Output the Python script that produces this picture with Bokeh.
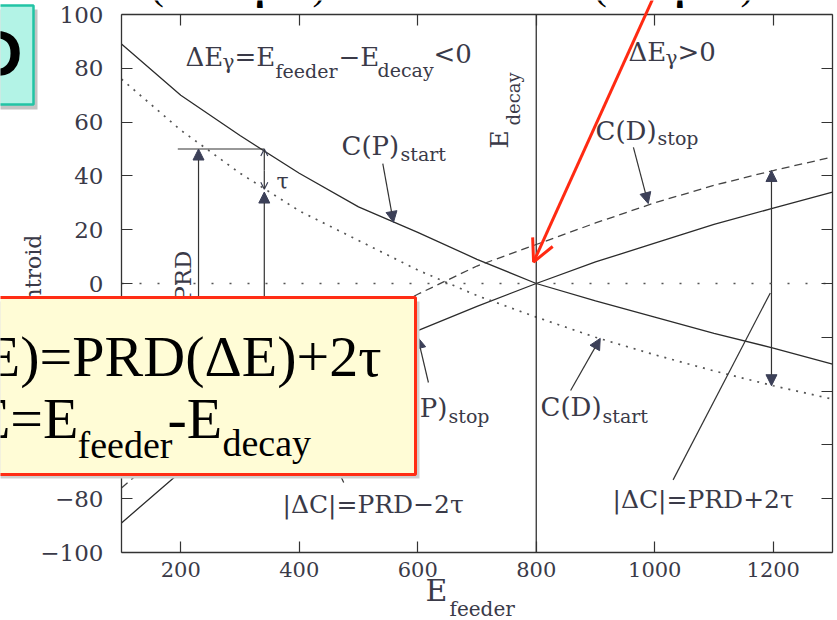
import math
from bokeh.plotting import figure
from bokeh.models import (Label, Arrow, NormalHead, OpenHead, BoxAnnotation,
                          LinearAxis, FixedTicker, Range1d)
from bokeh.embed import file_html
from bokeh.resources import INLINE

# ---------------- data ----------------
e_feeder = [100, 200, 300, 400, 500, 600, 700, 800, 900, 1000, 1100, 1200, 1300]
cp_start = [89, 70, 55, 41, 28.5, 19, 9, 0, -6.5, -12.5, -18.5, -24, -30]      # solid, falling
cp_stop = [-89, -70, -55, -41, -29, -17.5, -8.5, 0, 8, 15, 22, 28, 34]         # solid, rising
cd_start = [76, 57, 41, 27, 16, 5, -4.5, -12.5, -20, -26.5, -32.5, -38, -43]   # dotted, falling
cd_stop = [-76, -57, -41, -28, -15.5, -4, 6.5, 14.5, 22.5, 30, 36.5, 42, 47]   # dashed, rising
e_decay = 800
x_ticks = [200, 400, 600, 800, 1000, 1200]
y_ticks = [-100, -80, -60, -40, -20, 0, 20, 40, 60, 80, 100]
y_tick_labels = {t: (str(t) if t >= 0 else "\u2212" + str(-t)) for t in y_ticks}
X_MIN, X_MAX = 100, 1300
Y_MIN, Y_MAX = -100, 100

# ---------------- layout: plot box inside the 837x620 page ----------------
W, H = 837, 620
F_L, F_R, F_T, F_B = 121, 832, 14, 552
kx = (F_R - F_L) / (X_MAX - X_MIN)
ky = (F_B - F_T) / (Y_MAX - Y_MIN)
x_rng = Range1d(X_MIN - F_L / kx, X_MAX + (W - F_R) / kx)
y_rng = Range1d(Y_MIN - (H - F_B) / ky, Y_MAX + F_T / ky)

AX = "#333333"
TXT = "#3a3a48"
ARW = "#3c4058"
SERIF = "DejaVu Serif"
RED = "#ff2a12"

p = figure(width=W, height=H, x_range=x_rng, y_range=y_rng,
           output_backend="svg", toolbar_location=None,
           x_axis_location=None, y_axis_location=None,
           min_border_left=0, min_border_right=0, min_border_top=0, min_border_bottom=0)
p.grid.visible = False
p.outline_line_color = None
p.background_fill_color = "white"
p.border_fill_color = "white"


def make_axis(loc, bounds, ticks, labels_on, size):
    ax = LinearAxis(fixed_location=loc, bounds=bounds, ticker=FixedTicker(ticks=ticks))
    ax.major_tick_in = 11
    ax.major_tick_out = 0
    ax.minor_tick_in = 0
    ax.minor_tick_out = 0
    ax.axis_line_color = AX
    ax.axis_line_width = 1.3
    ax.major_tick_line_color = AX
    ax.major_tick_line_width = 1.2
    ax.major_label_text_font = SERIF
    ax.major_label_text_font_size = size
    if labels_on:
        ax.major_label_text_color = TXT
    else:
        ax.major_label_text_color = None
        ax.major_label_text_alpha = 0
    return ax


left = make_axis(X_MIN, (Y_MIN, Y_MAX), y_ticks, True, "23px")
left.major_label_overrides = y_tick_labels
left.major_label_standoff = 18
left.axis_label = "Centroid"
left.axis_label_text_font = SERIF
left.axis_label_text_font_style = "normal"
left.axis_label_text_font_size = "22px"
left.axis_label_text_color = TXT
left.axis_label_standoff = -9
p.add_layout(left, "left")

bottom = make_axis(Y_MIN, (X_MIN, X_MAX), x_ticks, True, "21px")
bottom.major_label_standoff = 9
p.add_layout(bottom, "below")
p.add_layout(make_axis(Y_MAX, (X_MIN, X_MAX), x_ticks, False, "10px"), "above")
p.add_layout(make_axis(X_MAX, (Y_MIN, Y_MAX), y_ticks, False, "10px"), "right")

# ---------------- curves ----------------
p.line(e_feeder, cp_start, line_color="#2b2b2b", line_width=1.3)
p.line(e_feeder, cp_stop, line_color="#2b2b2b", line_width=1.3)
p.line(e_feeder, cd_start, line_color="#555555", line_width=1.7, line_dash="2 6")
p.line(e_feeder, cd_stop, line_color="#444444", line_width=1.3, line_dash="8 5")
p.line([X_MIN, X_MAX], [0, 0], line_color="#555555", line_width=1.7, line_dash="2 16")
p.line([e_decay, e_decay], [Y_MIN, Y_MAX], line_color=AX, line_width=1.3)


# ---------------- chart arrows (data units) ----------------
def arrow(x0, y0, x1, y1, head=True, open_head=False, size=11):
    end = None
    if head:
        end = (OpenHead(size=size, line_color=ARW, line_width=1.2) if open_head
               else NormalHead(size=size, fill_color=ARW, line_color=ARW, line_width=1))
    p.add_layout(Arrow(x_start=x0, y_start=y0, x_end=x1, y_end=y1, end=end,
                       line_color="#333333", line_width=1.2))


arrow(541, 44.6, 559, 22.7)            # C(P)start pointer
arrow(964, 50.6, 989, 29.7)            # C(D)stop pointer
arrow(858, -39.8, 908, -20.4)          # C(D)start pointer
arrow(618, -36.8, 600, -20)            # C(P)stop pointer
arrow(1197, 0, 1197, 42)               # |dC| = PRD + 2tau (upper half)
arrow(1197, 0, 1197, -38)              # |dC| = PRD + 2tau (lower half)
arrow(1031, -73, 1195, -3.5, head=False)
arrow(475, -74, 411, -43.5, head=False)
arrow(195, 50, 341, 50, head=False)    # horizontal PRD level
arrow(230, -60, 230, 50)               # PRD arrow
arrow(341, -60, 341, 34)               # PRD - 2tau arrow
arrow(341, 42, 341, 50, open_head=True, size=7)   # tau
arrow(341, 42, 341, 35, open_head=True, size=7)


# ---------------- texts (page pixels; y = baseline) ----------------
def lab(x, base, text, size, align="left", rotated=False, font=SERIF, color=TXT,
        level="annotation", style="normal"):
    if rotated:
        xx, yy, ang = x - 0.34 * size, base, math.pi / 2
    else:
        xx, yy, ang = x, base - 0.34 * size, 0.0
    p.add_layout(Label(x=xx, y=yy, x_units="canvas", y_units="canvas", text=text,
                       text_font=font, text_font_size=f"{size}px", text_color=color,
                       text_align=align, text_baseline="middle", angle=ang,
                       text_font_style=style, level=level))


lab(185, 65, "\u0394E", 26)
lab(222, 68, "\u03b3", 20)
lab(234, 65, "=E", 26)
lab(275, 77, "feeder", 19)
lab(338, 65, "\u2212E", 26)
lab(377, 76, "decay", 19)
lab(433, 62, "<0", 26)

lab(628, 60, "\u0394E", 26)
lab(665, 64, "\u03b3", 20)
lab(677, 60, ">0", 26)

lab(341, 154, "C(P)", 26)
lab(400, 160, "start", 19)
lab(595, 139, "C(D)", 26)
lab(657, 144, "stop", 19)
lab(540, 415, "C(D)", 26)
lab(602, 422, "start", 19)
lab(447, 416, "C(P)", 26, align="right")
lab(448, 422, "stop", 19)
lab(282, 512, "|\u0394C|=PRD\u22122\u03c4", 25)
lab(612, 507, "|\u0394C|=PRD+2\u03c4", 25)
lab(276, 188, "\u03c4", 22)
lab(507, 148, "E", 25, rotated=True)
lab(519, 125, "decay", 18, rotated=True)
lab(190, 250, "PRD", 23, align="right", rotated=True)
lab(425, 600, "E", 30)
lab(449, 615, "feeder", 20)


# ---------------- slide overlays ----------------
def box(l, r, t, b, fill, line, lw):
    p.add_layout(BoxAnnotation(left=l, right=r, top=t, bottom=b,
                               left_units="canvas", right_units="canvas",
                               top_units="canvas", bottom_units="canvas",
                               fill_color=fill, fill_alpha=1.0, line_color=line,
                               line_alpha=1.0, line_width=lw, level="overlay"))


box(-10, 37, 9, 109, "#c4c4c4", None, 0)
box(-10, 33, 5, 104, "#b3f3e6", "#22c4a5", 2.5)
lab(22, 75, "D", 64, align="right", font="Liberation Sans", color="black",
    level="overlay", style="bold")

box(-10, 419, 301, 478, "#cfcfcf", None, 0)
box(-10, 415, 297, 474, "#fffcd6", "#ff2d14", 3)
lab(381, 376, "\u0394C(\u0394E)=PRD(\u0394E)+2\u03c4", 58, align="right",
    font="Liberation Serif", color="black", level="overlay")
lab(78, 438, "\u0394E=E", 58, align="right", font="Liberation Serif", color="black",
    level="overlay")
lab(77, 457, "feeder", 38, font="Liberation Serif", color="black", level="overlay")
lab(167, 438, "-E", 58, font="Liberation Serif", color="black", level="overlay")
lab(222, 455, "decay", 38, font="Liberation Serif", color="black", level="overlay")

for xx, t, st in [(150, "(", "normal"), (250, "\u03b3", "bold"), (312, ")", "normal"),
                  (593, "(", "normal"), (670, "\u03b3", "bold"), (740, ")", "normal")]:
    lab(xx, -1, t, 40, font="Liberation Serif", color="black", level="overlay", style=st)

p.add_layout(Arrow(x_start=996, y_start=105.5, x_end=795.5, y_end=8,
                   end=OpenHead(size=22, line_color=RED, line_width=3),
                   line_color=RED, line_width=3, level="overlay"))

open("out.html", "w").write(file_html(p, INLINE))
